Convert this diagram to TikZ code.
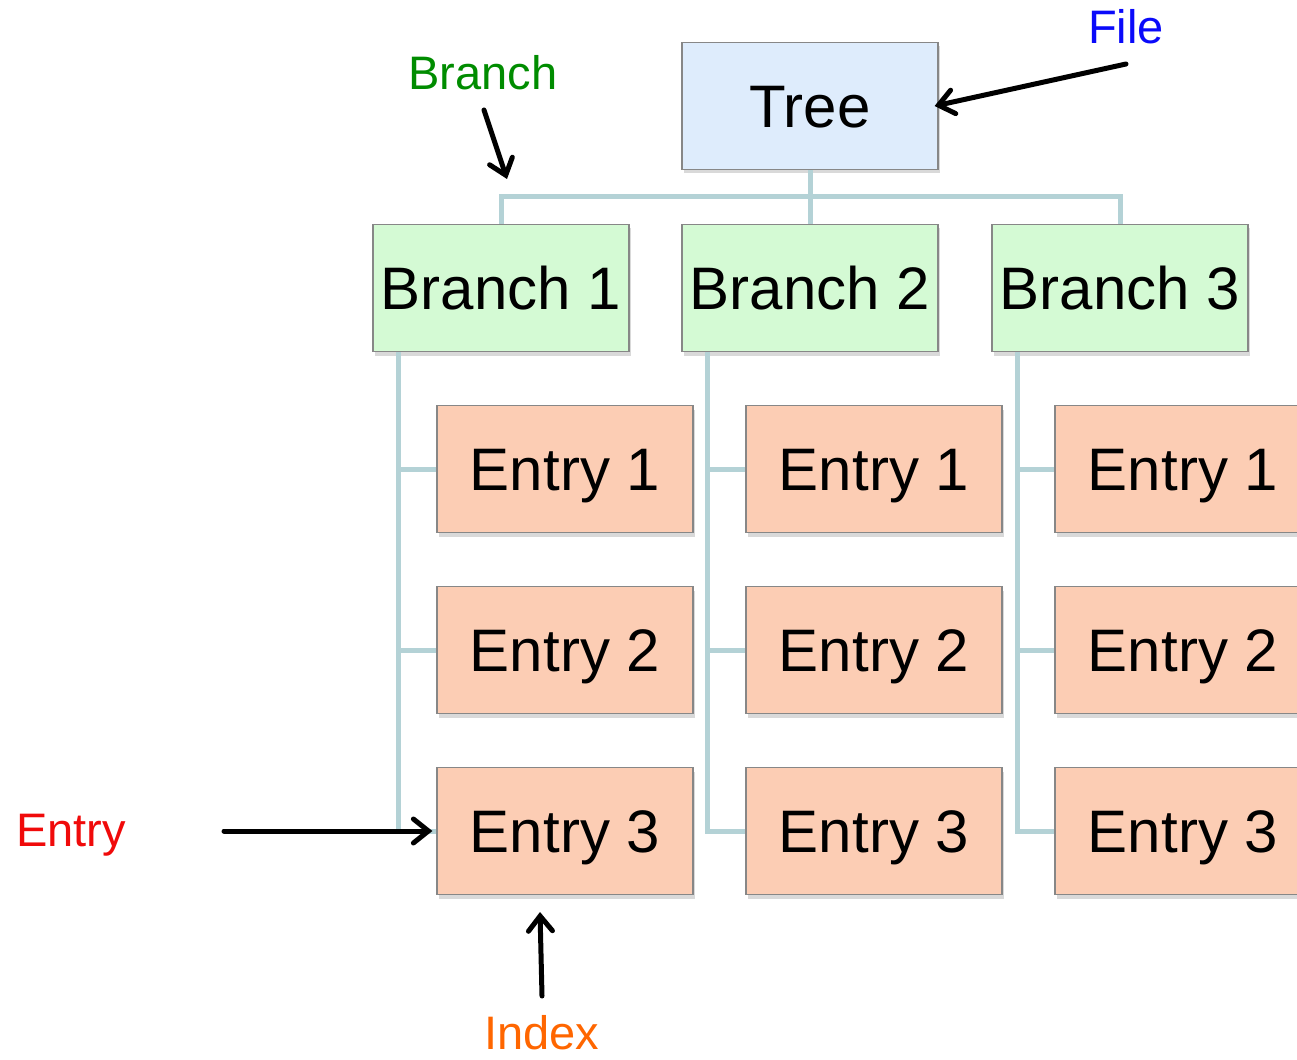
\documentclass[tikz,border=0pt]{standalone}
\usepackage{fontspec}
\setmainfont{Liberation Sans}
\usetikzlibrary{arrows.meta,shadows}
\definecolor{treefill}{RGB}{222,236,252}
\definecolor{branchfill}{RGB}{212,250,212}
\definecolor{entryfill}{RGB}{252,205,180}
\definecolor{linkcol}{RGB}{180,210,214}
\definecolor{boxline}{RGB}{135,135,135}
\definecolor{labgreen}{RGB}{0,140,0}
\definecolor{labblue}{RGB}{10,10,250}
\definecolor{labred}{RGB}{240,10,10}
\definecolor{laborange}{RGB}{255,102,0}
\begin{document}
\begin{tikzpicture}[x=1pt,y=-1pt,
  box/.style={draw=boxline, line width=1.2pt, minimum width=256pt, minimum height=127pt,
    inner sep=0pt, text height=43pt, text depth=0pt, font=\fontsize{60}{72}\selectfont,
    drop shadow={shadow xshift=2pt, shadow yshift=-4pt, opacity=0.3}},
  treebox/.style={box, fill=treefill},
  branchbox/.style={box, fill=branchfill},
  entrybox/.style={box, fill=entryfill},
  link/.style={draw=linkcol, line width=5pt},
  arr/.style={line width=5pt, line cap=round, -{Straight Barb[length=15pt,width=24pt,line cap=round]}},
  lab/.style={anchor=base, inner sep=0pt, font=\fontsize{47}{56}\selectfont}]
\useasboundingbox (0,0) rectangle (1297,1059);
\clip (0,0) rectangle (1297,1059);

% root, branches, entries
\node[treebox] (tree) at (810,106) {Tree};
\node[branchbox] (b1) at (501,288) {Branch 1};
\node[branchbox] (b2) at (810,288) {Branch 2};
\node[branchbox] (b3) at (1120,288) {Branch 3};
\foreach \c/\x in {1/565,2/874,3/1183}{
  \node[entrybox] (e\c1) at (\x,469) {Entry 1};
  \node[entrybox] (e\c2) at (\x,650) {Entry 2};
  \node[entrybox] (e\c3) at (\x,831) {Entry 3};
}

% tree links
\coordinate (bus) at (810,197);
\draw[link] (tree.south) -- (bus);
\draw[link] (b1.north) |- (bus) -| (b3.north);
\draw[link] (bus) -- (b2.north);
\foreach \c in {1,2,3}{
  \draw[link] ([xshift=26pt]b\c.south west) |- (e\c3.west);
  \draw[link] ([xshift=26pt]b\c.south west |- e\c1.west) -- (e\c1.west);
  \draw[link] ([xshift=26pt]b\c.south west |- e\c2.west) -- (e\c2.west);
}

% labels
\node[lab, text=labgreen] (lbranch) at (483,90) {Branch};
\node[lab, text=labblue] (lfile) at (1126,44) {File};
\node[lab, text=labred] (lentry) at (71,846) {Entry};
\node[lab, text=laborange] (lindex) at (542,1049) {Index};

% pointer arrows
\coordinate (branchtail) at (484,110);
\coordinate (branchtip) at (507,179);
\coordinate (filetail) at (1126,64);
\coordinate (entrytail) at (224,831);
\coordinate (indextail) at (542,996);
\coordinate (indextip) at (540,912);
\draw[arr] (branchtail) -- (branchtip);
\draw[arr] (filetail) -- ([xshift=-4pt]tree.east);
\draw[arr] (entrytail) -- ([xshift=-4pt]e13.west);
\draw[arr] (indextail) -- (indextip);
\end{tikzpicture}
\end{document}
